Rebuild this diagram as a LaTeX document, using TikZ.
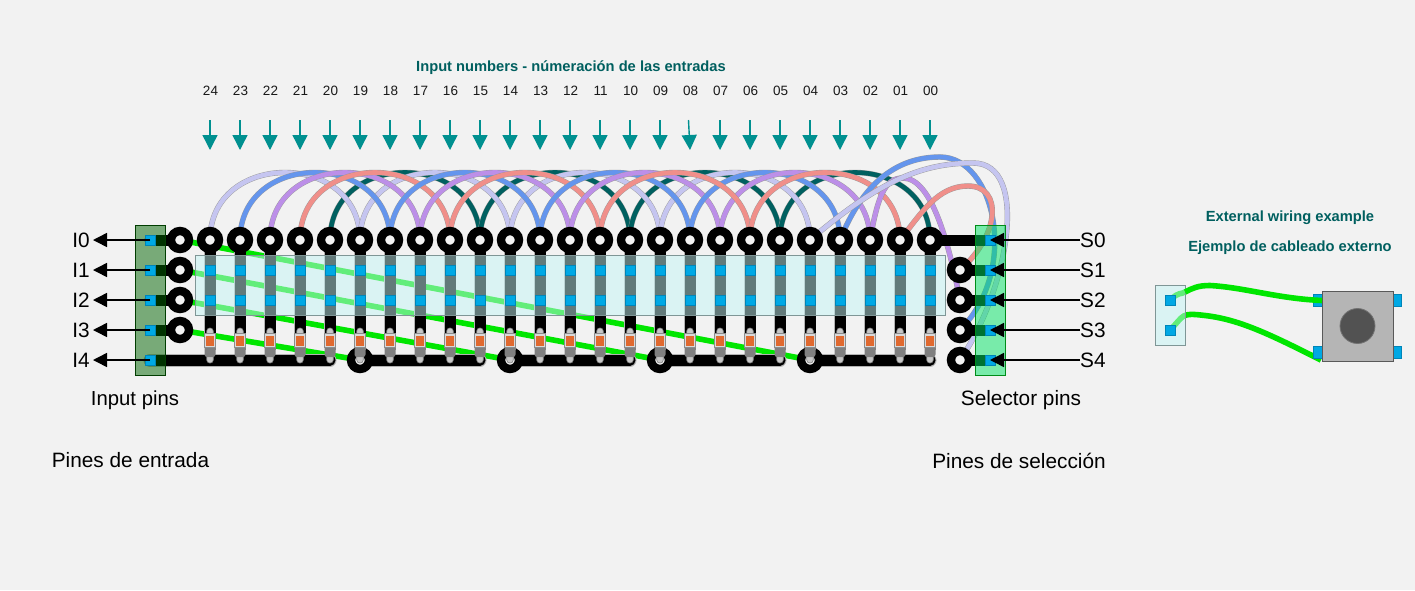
\documentclass[tikz,border=0pt]{standalone}
\usepackage{fontspec}
\setmainfont{Liberation Sans}
\usetikzlibrary{arrows.meta,calc}
\pgfdeclarelayer{bgl}\pgfdeclarelayer{wires}\pgfdeclarelayer{traces}\pgfdeclarelayer{res}\pgfdeclarelayer{glass}
\pgfsetlayers{bgl,wires,traces,main,res,glass}
\definecolor{bgc}{HTML}{F2F2F2}
\definecolor{wlav}{HTML}{C5C5F0}
\definecolor{wblue}{HTML}{6495ED}
\definecolor{wpur}{HTML}{BC8FE8}
\definecolor{wsal}{HTML}{F08F8A}
\definecolor{wtea}{HTML}{006060}
\definecolor{wgre}{HTML}{00E600}
\definecolor{sqblue}{HTML}{00A8E4}
\definecolor{sqedge}{HTML}{0085B8}
\definecolor{heading}{HTML}{005F5F}
\definecolor{tealarrow}{HTML}{009090}
\definecolor{glassc}{HTML}{C4F5F5}
\definecolor{selc}{HTML}{00E664}
\definecolor{orangec}{HTML}{E0692F}
\tikzset{
  padnode/.style={circle,draw=black,line width=8.4pt,fill=bgc,minimum size=18pt,inner sep=0pt},
  sqnode/.style={rectangle,draw=sqedge,line width=0.6pt,fill=sqblue,minimum size=10.4pt,inner sep=0pt},
  pinnode/.style={rectangle,draw=sqedge,line width=0.8pt,fill=sqblue,minimum width=8.4pt,minimum height=12pt,inner sep=0pt},
  arcw/.style={line width=4.6pt,preaction={draw=black!40,line width=5.4pt}},
  greenw/.style={draw=wgre,line width=5.6pt},
  tracew/.style={draw=black,line width=11pt},
  glassbox/.style={rectangle,draw=black!35!glassc!70!gray,line width=1pt,fill=glassc,fill opacity=.5,minimum size=1pt,inner sep=0pt},
  leadnode/.style={rectangle,rounded corners=3pt,draw=black!50,line width=.6pt,fill=black!22,minimum width=6.5pt,minimum height=35pt,inner sep=0pt},
  lab/.style={font=\fontsize{20.8}{21}\selectfont,inner sep=0pt},
  numlab/.style={font=\fontsize{13.5}{14}\selectfont,inner sep=0pt,text=black!90},
  head/.style={font=\bfseries\fontsize{14.7}{15}\selectfont,text=heading,inner sep=0pt},
  blackarrow/.style={draw=black,line width=1.5pt,-{Triangle[length=14pt,width=14pt]}},
  topnum/.style={draw=tealarrow,line width=1.4pt,-{Triangle[length=15pt,width=15pt,fill=tealarrow]}},
}
\begin{document}
\begin{tikzpicture}[x=1pt,y=-1pt]
\begin{pgfonlayer}{bgl}
\fill[bgc] (0,0) rectangle (1415,590);
\end{pgfonlayer}
\useasboundingbox (0,0) rectangle (1415,590);
% pads on the columns
\foreach \k in {0,...,24}{
  \node[padnode] (p\k) at ({210+30*\k},240) {};
}
\foreach \i/\y in {0/240,1/270,2/300,3/330}{
  \node[padnode] (L\i) at (180,\y) {};
}
\foreach \i/\y in {1/270,2/300,3/330,4/360}{
  \node[padnode] (R\i) at (960,\y) {};
}
\foreach \i/\x in {1/360,2/510,3/660,4/810}{
  \node[padnode] (B\i) at (\x,360) {};
}
\begin{pgfonlayer}{glass}
\foreach \i/\y in {0/240,1/270,2/300,3/330,4/360}{
  \node[sqnode] (inS\i) at (150,\y) {};
  \node[sqnode] (selS\i) at (990,\y) {};
}
\foreach \k in {0,...,24}{
  \node[sqnode] (t\k) at ({210+30*\k},270) {};
  \node[sqnode] (u\k) at ({210+30*\k},300) {};
}
\end{pgfonlayer}
\begin{pgfonlayer}{res}
\foreach \k in {0,...,24}{
  \node[leadnode] (r\k) at ({210+30*\k},345.5) {};
  \fill[black!50,rounded corners=2.5pt] ({210+30*\k-5.5},345) rectangle ({210+30*\k+5.5},357);
  \fill[black!50] ({210+30*\k-5.5},345) rectangle ({210+30*\k+5.5},350);
  \draw[black!45,fill=black!15,line width=.8pt] ({210+30*\k-5.2},333.5) rectangle ({210+30*\k+5.2},347);
  \fill[orangec] ({210+30*\k-4},336) rectangle ({210+30*\k+4},346);
}
\end{pgfonlayer}
\begin{pgfonlayer}{traces}
\foreach \k in {0,...,24}{
  \draw[black!30,line width=12.5pt] (p\k.center) -- (r\k.center);
}
\foreach \a/\b in {inS4/r4,B1/r9,B2/r14,B3/r19,B4/r24}{
  \draw[black!30,line width=13pt,line cap=round] (\a.center) -- (\a.center -| \b.center);
}
\foreach \k in {0,...,24}{
  \draw[tracew] (p\k.center) -- (r\k.center);
}
\foreach \a/\b in {inS4/r4,B1/r9,B2/r14,B3/r19,B4/r24}{
  \draw[tracew,line cap=round] (\a.center) -- (\a.center -| \b.center);
}
\foreach \i in {0,1,2,3}{
  \draw[tracew,line cap=round] (L\i.center) -- (inS\i.center);
}
\foreach \i in {1,2,3,4}{
  \draw[tracew,line cap=round] (R\i.center) -- (selS\i.center);
}
\draw[tracew,line cap=round] (p24.center) -- (selS0.center);
\end{pgfonlayer}
\begin{pgfonlayer}{wires}
\draw[greenw] (L0.center) -- (B4.center);
\draw[greenw] (L1.center) -- (B3.center);
\draw[greenw] (L2.center) -- (B2.center);
\draw[greenw] (L3.center) -- (B1.center);
\foreach \ka/\c in {4/wtea,9/wtea,14/wtea,19/wtea,0/wlav,5/wlav,10/wlav,15/wlav,1/wblue,2/wpur,3/wsal,6/wblue,7/wpur,8/wsal,11/wblue,12/wpur,16/wblue,17/wpur,13/wsal,18/wsal}{
  \pgfmathtruncatemacro{\kb}{\ka+5}
  \draw[arcw,draw=\c] (p\ka.center) .. controls +(0,-90) and +(0,-90) .. (p\kb.center);
}
\draw[arcw,draw=wblue] (p21.center) .. controls +(22,-55) and +(-45,0) .. (940,157) .. controls +(55,0) and +(60,-60) .. (R3.center);
\draw[arcw,draw=wpur] (p22.center) .. controls +(8,-45) and +(-18,0) .. (903,178) .. controls +(30,0) and +(-10,-50) .. (R2.center);
\draw[arcw,draw=wsal] (p23.center) .. controls +(22,-28) and +(-30,0) .. (968,186) .. controls +(35,0) and +(40,-35) .. (R1.center);
\draw[arcw,draw=wlav] (p20.center) .. controls +(70,-60) and +(-50,0) .. (973,163) .. controls +(58,0) and +(48,-70) .. (R4.center);
\end{pgfonlayer}
\begin{pgfonlayer}{res}
\node[rectangle,draw=black!60!green!60!black,line width=1pt,fill=green!39!black,fill opacity=.5,minimum width=30pt,minimum height=150pt,inner sep=0pt] (inbox) at (150,300) {};
\node[rectangle,draw=green!50!black!90!cyan,line width=1pt,fill=selc,fill opacity=.5,minimum width=30pt,minimum height=150pt,inner sep=0pt] (selbox) at (990,300) {};
\node[glassbox,minimum width=750pt,minimum height=60pt] (glassa) at (570,285) {};
\end{pgfonlayer}
\foreach \i/\y in {0/240,1/270,2/300,3/330,4/360}{
  \node[lab,anchor=east] (IL\i) at (90,\y) {I\i};
  \node[lab,anchor=west] (SL\i) at (1080,\y) {S\i};
}
\begin{pgfonlayer}{glass}
\foreach \i in {0,...,4}{
  \draw[blackarrow,shorten >=3pt] (inS\i.center) -- (IL\i.east);
  \draw[blackarrow] (SL\i.west) -- (selS\i.center);
}
\end{pgfonlayer}
\node[lab,font=\fontsize{20.3}{21}\selectfont] (t1) at (135,400.5) {Input pins};
\node[lab] (t2) at (130.5,460.5) {Pines de entrada};
\node[lab] (t3) at (1021,400.5) {Selector pins};
\node[lab] (t4) at (1019,460.5) {Pines de selección};
\node[head] (h1) at (571,68) {Input numbers - númeración de las entradas};
\node[head] (h2) at (1290,218) {External wiring example};
\node[head] (h3) at (1290,248) {Ejemplo de cableado externo};
\foreach \k/\t/\d in {0/24/0,1/23/0,2/22/0,3/21/0,4/20/0,5/19/0,6/18/0,7/17/0,8/16/0,9/15/0,10/14/0,11/13/0,12/12/0,13/11/0,14/10/0,15/09/0,16/08/1.5,17/07/0,18/06/0,19/05/0,20/04/0,21/03/0,22/02/0,23/01/0,24/00/0}{
  \node[numlab] (n\k) at ({210.5+30*\k},91) {\t};
  \coordinate (as\k) at ({210+30*\k-\d},120);
  \coordinate (ae\k) at ({210+30*\k},150);
  \draw[topnum] (as\k) -- (ae\k);
}
\node[rectangle,draw=black!65,line width=1pt,minimum width=71pt,minimum height=70pt,inner sep=0pt,fill=black!29] (btn) at (1357.5,326) {};
\node[circle,draw=black!55,line width=.8pt,fill=black!68,minimum size=35pt,inner sep=0pt] (knob) at (btn.center) {};
\begin{pgfonlayer}{traces}
\node[pinnode] (pa) at (1318,300.5) {};
\node[pinnode] (pb) at (1318,352.5) {};
\node[pinnode] (pc) at (1397.5,300.5) {};
\node[pinnode] (pd) at (1397.5,352.5) {};
\end{pgfonlayer}
\begin{pgfonlayer}{glass}
\node[sqnode] (xa) at (1170,300) {};
\node[sqnode] (xb) at (1170,330) {};
\end{pgfonlayer}
\begin{pgfonlayer}{res}
\coordinate (xe) at (1321,360);
\node[glassbox,minimum width=30pt,minimum height=60pt] (glassb) at (1170,315) {};
\draw[greenw] (1185,292) .. controls +(8,-4) and +(-12,0) .. (1210,285.5) .. controls +(35,2) and +(-45,-2) .. (1322,300.5);
\end{pgfonlayer}
\begin{pgfonlayer}{wires}
\draw[greenw] (xa.center) .. controls +(10,-9) and +(-5,3) .. (1185,292);
\draw[greenw] (xb.center) .. controls +(15,-15) and +(-25,-3) .. (1205,315.5) .. controls +(35,4) and +(-50,-25) .. (xe);
\end{pgfonlayer}
\end{tikzpicture}
\end{document}
